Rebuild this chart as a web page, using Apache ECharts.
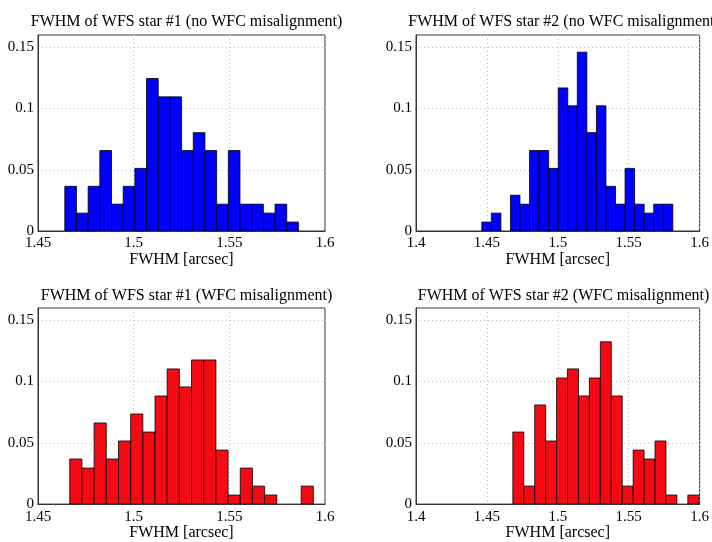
<!DOCTYPE html>
<html>
<head>
<meta charset="utf-8">
<script src="https://cdn.jsdelivr.net/npm/echarts@6/dist/echarts.min.js"></script>
<style>html,body{margin:0;padding:0;background:#fff}#c{width:712px;height:542px}</style>
</head>
<body>
<div id="c"></div>
<script>
// ---- data ----
const titles = [
  'FWHM of WFS star #1 (no WFC misalignment)',
  'FWHM of WFS star #2 (no WFC misalignment)',
  'FWHM of WFS star #1 (WFC misalignment)',
  'FWHM of WFS star #2 (WFC misalignment)'
];
const xAxisLabel = 'FWHM [arcsec]';
// histogram bin ranges [first edge, last edge]
const star1NoMisRange = [1.4640, 1.5861];
const star2NoMisRange = [1.4464, 1.5811];
const star1MisRange   = [1.4666, 1.5939];
const star2MisRange   = [1.4683, 1.5994];
// relative frequencies per bin
const star1NoMis = [0.0365,0.0146,0.0365,0.0657,0.0219,0.0365,0.0511,0.1245,0.1095,0.1095,0.0657,0.0803,0.0657,0.0219,0.0657,0.0219,0.0219,0.0146,0.0219,0.0073];
const star2NoMis = [0.0073,0.0146,0,0.0292,0.0219,0.0657,0.0657,0.0511,0.1168,0.1022,0.1460,0.0803,0.1022,0.0365,0.0219,0.0511,0.0219,0.0146,0.0219,0.0219];
const star1Mis   = [0.0368,0.0294,0.0662,0.0368,0.0515,0.0735,0.0588,0.0882,0.1103,0.0956,0.1176,0.1176,0.0441,0.0074,0.0294,0.0147,0.0074,0,0,0.0147];
const star2Mis   = [0.0588,0.0147,0.0809,0.0515,0.1029,0.1103,0.0882,0.1029,0.1324,0.0882,0.0147,0.0441,0.0368,0.0515,0.0074,0,0.0074];
const xMins = [1.45, 1.4, 1.45, 1.4];
const xMax = 1.6;
const yMax = 0.16;

// ---- build ----
const font = 'Liberation Serif, Times New Roman, serif';
const hists = [
  {range: star1NoMisRange, vals: star1NoMis, color: '#0000ff'},
  {range: star2NoMisRange, vals: star2NoMis, color: '#0000ff'},
  {range: star1MisRange,   vals: star1Mis,   color: '#f50a14'},
  {range: star2MisRange,   vals: star2Mis,   color: '#f50a14'}
];
const grids = [
  {left: 38,  top: 35,  width: 287, height: 196},
  {left: 416, top: 35,  width: 286, height: 196},
  {left: 38,  top: 308, width: 287, height: 197},
  {left: 416, top: 308, width: 285, height: 197}
];
function binData(h) {
  const n = h.vals.length;
  const w = (h.range[1] - h.range[0]) / n;
  return h.vals.map((v, i) => [h.range[0] + i * w, h.range[0] + (i + 1) * w, v]);
}
const option = {
  animation: false,
  backgroundColor: '#fff',
  title: grids.map((g, i) => ({
    text: titles[i],
    left: g.left + g.width / 2,
    top: i < 2 ? 8 : 282,
    textAlign: 'center',
    textStyle: {fontFamily: font, fontSize: 16, fontWeight: 'normal', color: '#000', lineHeight: 18}
  })),
  grid: grids.map(g => Object.assign({show: true, borderColor: '#333', borderWidth: 1, backgroundColor: '#fff'}, g)),
  xAxis: grids.map((g, i) => ({
    type: 'value', gridIndex: i, min: xMins[i], max: xMax, interval: 0.05,
    name: xAxisLabel, nameLocation: 'middle', nameGap: 20,
    nameTextStyle: {fontFamily: font, fontSize: 16, color: '#000'},
    axisLine: {show: true, lineStyle: {color: '#333'}},
    axisTick: {show: false},
    axisLabel: {fontFamily: font, fontSize: 15, color: '#000', margin: 5, showMinLabel: true, showMaxLabel: true},
    splitLine: {show: true, lineStyle: {color: '#bbb', type: [1, 3], width: 1}}
  })),
  yAxis: grids.map((g, i) => ({
    type: 'value', gridIndex: i, min: 0, max: yMax, interval: 0.05,
    axisLine: {show: true, lineStyle: {color: '#333'}},
    axisTick: {show: false},
    axisLabel: {fontFamily: font, fontSize: 15, color: '#000', margin: 4, showMaxLabel: false},
    splitLine: {show: true, lineStyle: {color: '#bbb', type: [1, 3], width: 1}}
  })),
  series: hists.map((h, i) => ({
    type: 'custom', xAxisIndex: i, yAxisIndex: i, clip: true,
    data: binData(h),
    encode: {x: [0, 1], y: 2},
    renderItem: function (params, api) {
      const v = api.value(2);
      if (!v) return null;
      const p0 = api.coord([api.value(0), v]);
      const p1 = api.coord([api.value(1), 0]);
      return {
        type: 'rect',
        shape: {x: p0[0], y: p0[1], width: p1[0] - p0[0], height: p1[1] - p0[1]},
        style: {fill: h.color, stroke: '#000', lineWidth: 0.8}
      };
    }
  }))
};
const chart = echarts.init(document.getElementById('c'), null, {renderer: 'canvas'});
chart.setOption(option);
</script>
</body>
</html>
